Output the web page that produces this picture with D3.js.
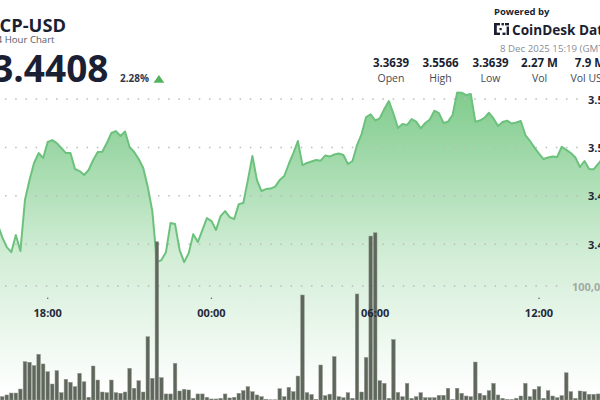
<!DOCTYPE html>
<html><head><meta charset="utf-8">
<script src="https://cdn.jsdelivr.net/npm/d3@7"></script>
<style>html,body{margin:0;padding:0;background:#fff;overflow:hidden}svg{display:block}</style>
</head><body>
<svg id="c" width="600" height="400"></svg>
<script>
// ---------- DATA ----------
const startTime = new Date(2025, 11, 7, 16, 10); // first 10-minute bar
const stepMinutes = 10;
const prices = [
3.4209,3.4074,3.3971,3.3919,3.4095,3.3930,3.4457,3.4663,3.4839,3.4942,
3.4891,3.5056,3.5076,3.5045,3.4994,3.4942,3.4942,3.4777,3.4756,3.4715,
3.4767,3.4870,3.4953,3.4956,3.5045,3.5149,3.5169,3.5118,3.5164,3.5004,
3.4953,3.4880,3.4787,3.4591,3.4343,3.3816,3.3837,3.3919,3.4219,3.4209,
3.3940,3.3816,3.3909,3.4105,3.4023,3.4147,3.4271,3.4240,3.4147,3.4291,
3.4343,3.4281,3.4260,3.4415,3.4426,3.4663,3.4911,3.4663,3.4550,3.4570,
3.4575,3.4596,3.4663,3.4705,3.4829,3.4942,3.5066,3.4818,3.4839,3.4854,
3.4870,3.4863,3.4916,3.4906,3.4927,3.4937,3.4922,3.4829,3.4860,3.5025,
3.5138,3.5314,3.5342,3.5278,3.5301,3.5397,3.5479,3.5350,3.5200,3.5242,
3.5231,3.5293,3.5266,3.5197,3.5252,3.5288,3.5379,3.5355,3.5252,3.5266,
3.5335,3.5566,3.5565,3.5541,3.5552,3.5266,3.5278,3.5304,3.5358,3.5299,
3.5221,3.5262,3.5276,3.5247,3.5257,3.5273,3.5128,3.5069,3.4999,3.4937,
3.4880,3.4896,3.4906,3.4901,3.5007,3.4975,3.4942,3.4896,3.4798,3.4860,
3.4777,3.4774,3.4829,3.4891];
const volumes = [
6100,2900,4400,6100,6100,9600,33600,33100,30100,40100,
31600,24800,14000,25700,6400,18200,15500,11700,23400,16000,
2400,29800,17500,7000,6400,17500,6400,5900,7000,27800,
10300,16900,7000,55500,19000,138800,19600,5300,5300,32200,
7900,9400,8800,1500,5300,5300,2400,900,900,1500,
5300,1800,2400,5900,8200,11700,7300,4400,2900,600,
200,200,9900,2900,11100,7300,21000,92100,6400,4800,
600,30700,3800,5100,38000,2900,2000,6400,1500,93000,
7000,37300,143800,146700,16900,14600,1500,53000,6600,2900,
14600,1500,2900,6400,2000,2000,2000,4100,4100,10300,
300,10300,5900,3500,2900,33300,5900,4100,8200,14600,
4400,1500,300,300,1500,3500,14600,2900,9400,11700,
1500,8200,3500,2000,3800,23900,7300,1500,7900,7300,
5000,5000,5300,12300];
const priceTicks = [3.40, 3.45, 3.50, 3.55];
const volumeTicks = [100000];
const timeTicks = [new Date(2025,11,7,18,0), new Date(2025,11,8,0,0), new Date(2025,11,8,6,0), new Date(2025,11,8,12,0)];
const timeTickLabels = ["18:00","00:00","06:00","12:00"];
const pair = "ICP-USD";
const subtitle = "24 Hour Chart";
const lastPrice = "3.4408";
const changePct = "2.28%";
const statValues = ["3.3639","3.5566","3.3639","2.27 M","7.9 M"];
const statLabels = ["Open","High","Low","Vol","Vol USD"];
const dateText = "8 Dec 2025 15:19 (GMT)";

// ---------- CHART ----------
const FONT = "'Open Sans','Noto Sans',sans-serif";
const svg = d3.select('#c').style('font-family', FONT);
const times = prices.map((_, i) => d3.timeMinute.offset(startTime, i * stepMinutes));
const data = prices.map((p, i) => ({t: times[i], p, v: volumes[i]}));

const x = d3.scaleTime().domain([timeTicks[0], timeTicks[3]]).range([47.7, 539]);
const y = d3.scaleLinear().domain([3.40, 3.55]).range([244.3, 99]);
const yv = d3.scaleLinear().domain([0, 100000]).range([400, 286]);
const step = x(d3.timeMinute.offset(startTime, stepMinutes)) - x(startTime);

const defs = svg.append('defs');
const grad = defs.append('linearGradient').attr('id','ag').attr('gradientUnits','userSpaceOnUse')
  .attr('x1',0).attr('x2',0).attr('y1',90).attr('y2',395);
grad.append('stop').attr('offset','0').attr('stop-color','#7fcb8c');
grad.append('stop').attr('offset','0.55').attr('stop-color','#d3eed7');
grad.append('stop').attr('offset','1').attr('stop-color','#ffffff');

// area + line
svg.append('path').datum(data)
  .attr('d', d3.area().x(d => x(d.t)).y0(400).y1(d => y(d.p)))
  .attr('fill','url(#ag)');

// dotted gridlines
const gridG = svg.append('g');
priceTicks.forEach(v => {
  gridG.append('line').attr('x1',5).attr('x2',583).attr('y1',y(v)).attr('y2',y(v))
    .attr('stroke','#b9bdb9').attr('stroke-width',1.5).attr('stroke-dasharray','1.5 8.7');
});
volumeTicks.forEach(v => {
  gridG.append('line').attr('x1',5).attr('x2',566).attr('y1',yv(v)).attr('y2',yv(v))
    .attr('stroke','#b9bdb9').attr('stroke-width',1.5).attr('stroke-dasharray','1.5 8.7');
});

svg.append('path').datum(data)
  .attr('d', d3.line().x(d => x(d.t)).y(d => y(d.p)))
  .attr('fill','none').attr('stroke','#6cc27d').attr('stroke-width',2).attr('stroke-linejoin','round');

// volume bars
const bw = step * 0.78;
svg.append('g').selectAll('rect').data(data).join('rect')
  .attr('x', d => x(d.t) - bw/2).attr('width', bw)
  .attr('y', d => yv(d.v)).attr('height', d => 400 - yv(d.v))
  .attr('fill','#5f675c').attr('stroke','#8d948a').attr('stroke-width',0.5);

// y axis labels
priceTicks.forEach(v => {
  svg.append('text').attr('x',588).attr('y',y(v)+4.5)
    .style('font-size','11px').style('font-weight',700).attr('fill','#23283a').text(v.toFixed(2));
});
volumeTicks.forEach(v => {
  svg.append('text').attr('x',572).attr('y',yv(v)+4.5)
    .style('font-size','11px').style('font-weight',700).attr('fill','#a3aaa3').text(d3.format(',')(v));
});

// x axis ticks
timeTicks.forEach((t, i) => {
  svg.append('circle').attr('cx',x(t)).attr('cy',298.3).attr('r',0.8).attr('fill','#666');
  svg.append('text').attr('x',x(t)).attr('y',317).attr('text-anchor','middle')
    .style('font-size','11px').style('font-weight',700).attr('fill','#23283a').text(timeTickLabels[i]);
});

// header left
svg.append('text').attr('x',66).attr('y',31.5).attr('text-anchor','end')
  .style('font-size','18.3px').style('font-weight',700).attr('fill','#1b1f33').text(pair);
svg.append('text').attr('x',54.5).attr('y',43.3).attr('text-anchor','end')
  .style('font-size','9.6px').attr('fill','#555a66').text(subtitle);
svg.append('text').attr('x',108.5).attr('y',81.7).attr('text-anchor','end')
  .style('font-size','37px').style('font-weight',700).attr('fill','#1b1f33').text(lastPrice);
svg.append('text').attr('x',120).attr('y',82)
  .style('font-size','10px').style('font-weight',700).attr('fill','#33384a').text(changePct);
svg.append('path').attr('d','M153.5,82.7 L164.3,82.7 L158.9,75 Z').attr('fill','#52b35f');

// header right
svg.append('text').attr('x',494).attr('y',15)
  .style('font-size','9.5px').style('font-weight',700).attr('fill','#1b1f33').text('Powered by');
const ic = svg.append('g').attr('fill','#1b1f33');
[[494,23,2.8,12],[494,23,6,2.4],[494,32.6,6,2.4],[501.5,23,2.4,2.4],[505,23,4,2.4],[506.6,26.5,2.4,8.5],[502.5,32.6,3,2.4],[499.5,28,2.2,2.2]]
  .forEach(r => ic.append('rect').attr('x',r[0]).attr('y',r[1]).attr('width',r[2]).attr('height',r[3]));
svg.append('text').attr('x',512).attr('y',35)
  .style('font-size','13.6px').style('font-weight',700).attr('fill','#1b1f33').text('CoinDesk Data');
svg.append('text').attr('x',500).attr('y',52)
  .style('font-size','9.7px').attr('fill','#8a8e96').text(dateText);
const statX = [391, 440.5, 490.5, 539.5, 590];
statValues.forEach((s, i) => {
  svg.append('text').attr('x',statX[i]).attr('y',67).attr('text-anchor','middle')
    .style('font-size','11.5px').style('font-weight',700).attr('fill','#1b1f33').text(s);
  svg.append('text').attr('x',statX[i]).attr('y',81.5).attr('text-anchor','middle')
    .style('font-size','10.5px').attr('fill','#444a55').text(statLabels[i]);
});
</script>
</body></html>
